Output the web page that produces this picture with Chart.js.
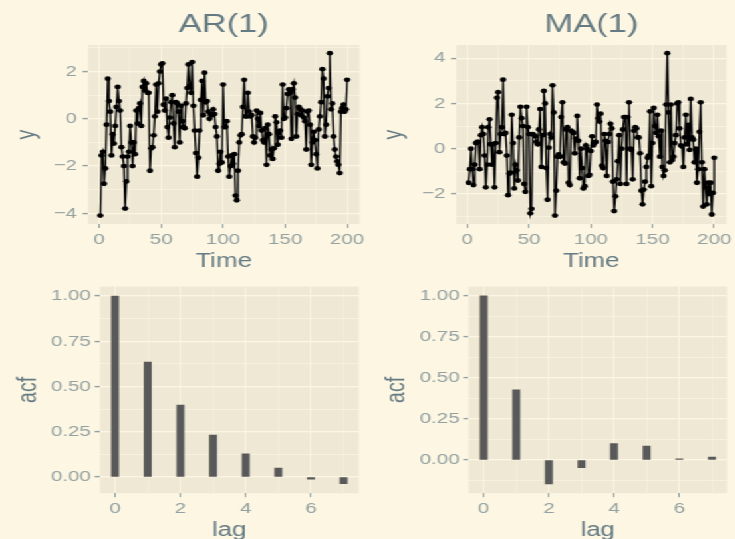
<!DOCTYPE html>
<html><head><meta charset="utf-8">
<script src="https://cdn.jsdelivr.net/npm/chart.js@4.4.1/dist/chart.umd.min.js"></script>
<style>
html,body{margin:0;padding:0;background:#FDF6E3;overflow:hidden;width:735px;height:539px}
#wrap{position:absolute;left:0;top:0;width:553px;height:539px;transform:scaleX(1.33);transform-origin:0 0}
canvas{position:absolute}
</style></head><body><div id="wrap"></div>
<script>
// ---------- data ----------
const timeIndex = [1,2,3,4,5,6,7,8,9,10,11,12,13,14,15,16,17,18,19,20,21,22,23,24,25,26,27,28,29,30,31,32,33,34,35,36,37,38,39,40,41,42,43,44,45,46,47,48,49,50,51,52,53,54,55,56,57,58,59,60,61,62,63,64,65,66,67,68,69,70,71,72,73,74,75,76,77,78,79,80,81,82,83,84,85,86,87,88,89,90,91,92,93,94,95,96,97,98,99,100,101,102,103,104,105,106,107,108,109,110,111,112,113,114,115,116,117,118,119,120,121,122,123,124,125,126,127,128,129,130,131,132,133,134,135,136,137,138,139,140,141,142,143,144,145,146,147,148,149,150,151,152,153,154,155,156,157,158,159,160,161,162,163,164,165,166,167,168,169,170,171,172,173,174,175,176,177,178,179,180,181,182,183,184,185,186,187,188,189,190,191,192,193,194,195,196,197,198,199,200];

const arValues = [
-4.1,-1.55,-1.4,-2.75,-2.1,-0.25,1.7,0.75,0.3,-1.55,
-0.65,-1.05,-0.3,0.5,1.35,0.75,0.35,-1.2,-1.6,-2.0,
-3.8,-2.65,-1.6,-1.4,-0.3,-1.0,-2.0,-1.0,-1.5,0.35,
-0.2,0.45,0.65,-0.3,1.35,1.6,1.2,1.5,1.1,1.1,
-2.2,-1.25,-1.2,-0.7,0.1,1.45,0.3,1.5,2.0,2.3,
2.35,0.6,0.35,0.85,-0.35,-0.8,0.05,0.7,1.0,-0.2,
-1.2,0.7,0.65,0.3,-1.0,0.55,-0.1,-0.35,-0.4,0.65,
1.3,2.3,1.4,1.1,2.4,0.55,-0.5,-1.45,-2.45,-1.65,
-0.5,0.8,1.6,0.15,1.95,0.7,0.75,0.3,0.0,0.2,
0.15,0.4,0.2,-0.35,-0.75,-2.2,-1.9,-1.4,-1.85,1.45,
-0.35,-0.35,-0.1,-1.6,-2.45,-2.0,-1.55,-1.9,-1.5,-3.25,
-3.45,-2.2,-1.0,-0.7,-0.65,0.5,1.65,0.1,0.1,1.1,
0.3,0.1,0.15,-0.75,-1.0,-0.8,0.35,0.0,-0.3,0.25,
-0.5,-0.9,-1.0,-0.4,-1.95,-0.25,-0.65,-1.55,-1.3,-1.7,
-1.25,0.1,-0.15,-1.1,-0.6,-0.5,-0.8,1.45,0.0,0.05,
0.45,1.05,1.25,1.1,-0.85,1.25,1.5,0.9,-0.75,0.2,
0.5,0.4,0.15,0.35,0.05,-0.1,-1.3,0.3,0.35,-0.25,
-1.95,-1.0,-0.55,-0.9,-1.5,-2.1,-0.45,0.1,0.7,2.1,
1.7,-0.75,-0.25,0.95,1.3,2.78,0.4,0.65,-0.75,-1.3,
-1.6,-1.8,-1.95,-2.3,0.3,0.45,0.6,0.3,0.4,1.65];

const maValues = [
-1.5,-0.9,0.0,-0.9,-1.6,-0.7,0.25,0.3,0.3,-0.9,
0.6,0.95,0.65,-0.3,-1.7,-0.7,0.95,1.3,0.2,-0.7,
0.2,-1.7,0.25,2.25,2.5,-0.15,0.65,0.95,3.05,0.65,
0.7,-0.3,-2.05,-1.1,-1.05,1.5,0.25,-1.75,-0.7,-0.95,
-1.4,0.5,1.85,1.35,1.0,-1.55,-1.9,1.85,0.95,0.65,
-2.85,-2.65,0.65,0.6,0.55,0.3,0.2,0.85,1.75,-0.8,
0.6,2.55,2.0,-0.85,-2.25,0.05,0.65,0.5,2.8,1.6,
-2.95,-1.85,-0.35,-0.25,-0.35,1.4,2.05,-0.6,-0.65,0.85,
0.95,-1.5,-1.6,0.8,0.75,0.7,-0.2,0.45,1.45,0.35,
-1.3,0.0,-0.85,-1.75,-1.65,0.15,0.0,-1.2,-1.15,-0.1,
0.55,0.15,0.25,0.3,1.95,1.35,1.2,1.55,-0.75,-0.85,
0.65,0.35,-1.2,0.3,0.65,1.1,0.9,-1.45,-2.75,-2.1,
-1.35,-0.55,0.6,-1.55,0.0,0.85,1.4,1.4,-1.55,1.4,
2.05,0.0,-0.05,-1.35,0.8,0.95,0.9,0.5,0.5,-0.2,
-1.85,-2.45,-1.8,-1.45,-0.8,-0.4,-0.3,1.65,-1.65,0.25,
1.8,1.0,0.7,1.5,0.55,-0.35,0.8,-0.8,-1.2,-0.95,
1.95,4.22,1.6,-0.6,1.95,-0.5,-0.35,0.25,0.6,2.0,
2.05,0.9,0.15,0.1,-0.8,0.5,1.5,0.2,1.05,-0.05,
2.2,0.5,0.4,-0.6,0.0,-1.5,-0.9,0.75,2.05,-0.6,
-2.55,-0.9,-1.7,-2.45,-1.5,-2.0,-1.5,-2.9,-1.95,-0.4];

const lags = [0,1,2,3,4,5,6,7];
const arAcf = [1.0,0.635,0.398,0.232,0.129,0.05,-0.011,-0.037];
const maAcf = [1.0,0.427,-0.146,-0.047,0.099,0.085,0.007,0.018];

const timeTicks = [0,50,100,150,200];
const timeMinor = [25,75,125,175];
const arYTicks = [-4,-2,0,2];
const arYMinor = [-3,-1,1,3];
const maYTicks = [-2,0,2,4];
const maYMinor = [-3,-1,1,3];
const acfYTicks = [0,0.25,0.5,0.75,1];
const acfArMinor = [0.125,0.375,0.625,0.875];
const acfMaMinor = [-0.125,0.125,0.375,0.625,0.875];
const lagTicks = [0,2,4,6];
const lagMinor = [1,3,5,7];

// ---------- styling ----------
const FONT = "'Liberation Sans', Arial, Helvetica, sans-serif";
const C = { panel:'#EEE8D5', grid:'#FDF6E3', tick:'#93A1A1', title:'#657B83', ink:'#000000', bar:'#595959' };
const wrap = document.getElementById('wrap');

const panelBg = { id:'panelBg', beforeDraw(chart){
  const {ctx, chartArea:a} = chart;
  ctx.save(); ctx.fillStyle = C.panel;
  ctx.fillRect(a.left, a.top, a.right-a.left, a.bottom-a.top);
  ctx.restore();
}};

const isIn = (arr, v) => arr.some(m => Math.abs(m - v) < 1e-9);
const fmtInt = v => v < 0 ? '\u2212' + Math.abs(v) : String(v);
const fmt2 = v => v < 0 ? '\u2212' + Math.abs(v).toFixed(2) : v.toFixed(2);

function makeChart(o){
  const cv = document.createElement('canvas');
  cv.width = o.cw; cv.height = o.ch;
  cv.style.left = o.cx + 'px'; cv.style.top = o.cy + 'px';
  cv.style.width = o.cw + 'px'; cv.style.height = o.ch + 'px';
  wrap.appendChild(cv);
  const xAll = o.xMajor.concat(o.xMinor).sort((a,b)=>a-b);
  const yAll = o.yMajor.concat(o.yMinor).sort((a,b)=>a-b);
  const yAxisW = o.L - o.cx;
  const xAxisH = o.cy + o.ch - o.B;
  const titleH = 31.2;
  new Chart(cv, {
    type: o.type,
    data: { datasets: [o.dataset] },
    options: {
      responsive:false, animation:false, devicePixelRatio:1,
      events: [],
      layout:{ padding:{ left:0, right:o.cx + o.cw - o.R, top: o.title ? 0 : o.T - o.cy, bottom:0 } },
      plugins:{
        legend:{display:false}, tooltip:{enabled:false},
        title: o.title ? { display:true, text:o.title, fullSize:false, color:C.title,
          font:{family:FONT, size:26, weight:'normal', lineHeight:1.2},
          padding:{ top:9.4, bottom:o.T - o.cy - 9.4 - titleH } } : { display:false }
      },
      scales:{
        x:{
          type:'linear', min:o.xMin, max:o.xMax, offset:false,
          afterBuildTicks: s => { s.ticks = xAll.map(v => ({value:v})); },
          afterFit: s => { s.height = xAxisH; s.paddingLeft = 0; s.paddingRight = 0; },
          ticks:{ autoSkip:false, maxRotation:0, minRotation:0, padding:2, color:C.tick,
            font:{family:FONT, size:15.5}, callback: v => isIn(o.xMajor, v) ? o.xFmt(v) : '' },
          grid:{ offset:false, color:C.grid, drawTicks:true, tickLength:4, tickWidth:1.1,
            lineWidth: c => (c.tick && isIn(o.xMajor, c.tick.value)) ? 0.9 : 0.45,
            tickColor: c => (c.tick && isIn(o.xMajor, c.tick.value)) ? C.tick : 'rgba(0,0,0,0)' },
          border:{display:false},
          title:{ display:true, text:o.xTitle, color:C.title, font:{family:FONT, size:19.5, lineHeight:1.2},
            padding:{top:0, bottom:o.xTitlePadB} }
        },
        y:{
          type:'linear', min:o.yMin, max:o.yMax,
          afterBuildTicks: s => { s.ticks = yAll.map(v => ({value:v})); },
          afterFit: s => { s.width = yAxisW; s.paddingTop = 0; s.paddingBottom = 0; },
          ticks:{ autoSkip:false, padding:o.yTickPad, color:C.tick,
            font:{family:FONT, size:15.5}, callback: v => isIn(o.yMajor, v) ? o.yFmt(v) : '' },
          grid:{ color:C.grid, drawTicks:true, tickLength:4, tickWidth:1.4,
            lineWidth: c => (c.tick && isIn(o.yMajor, c.tick.value)) ? 1.2 : 0.6,
            tickColor: c => (c.tick && isIn(o.yMajor, c.tick.value)) ? C.tick : 'rgba(0,0,0,0)' },
          border:{display:false},
          title:{ display:true, text:o.yTitle, color:C.title, font:{family:FONT, size:19.5, lineHeight:1.2},
            padding:{top:o.yTitlePadT, bottom:0} }
        }
      }
    },
    plugins:[panelBg]
  });
}

function lineSet(xs, ys){
  return { data: xs.map((t,i) => ({x:t, y:ys[i]})), borderColor:C.ink, borderWidth:1.35,
    pointRadius:2.4, pointBackgroundColor:C.ink, pointBorderWidth:0, tension:0, fill:false };
}
function barSet(xs, ys){
  return { data: xs.map((l,i) => ({x:l, y:ys[i]})), backgroundColor:C.bar, borderWidth:0, barThickness:5.3 };
}

// AR(1) series
makeChart({ type:'line', dataset:lineSet(timeIndex, arValues), title:'AR(1)',
  cx:0, cy:0, cw:276, ch:275, L:66.17, R:270.3, T:45, B:224,
  xMin:-8.95, xMax:209.95, yMin:-4.455, yMax:3.125,
  xMajor:timeTicks, xMinor:timeMinor, yMajor:arYTicks, yMinor:arYMinor,
  xFmt:fmtInt, yFmt:fmtInt, xTitle:'Time', yTitle:'y', xTitlePadB:2, yTitlePadT:9, yTickPad:4.3 });

// MA(1) series
makeChart({ type:'line', dataset:lineSet(timeIndex, maValues), title:'MA(1)',
  cx:276, cy:0, cw:277, ch:275, L:343.1, R:546.2, T:45, B:224,
  xMin:-8.95, xMax:209.95, yMin:-3.32, yMax:4.58,
  xMajor:timeTicks, xMinor:timeMinor, yMajor:maYTicks, yMinor:maYMinor,
  xFmt:fmtInt, yFmt:fmtInt, xTitle:'Time', yTitle:'y', xTitlePadB:2, yTitlePadT:9, yTickPad:4.3 });

// ACF of AR(1)
makeChart({ type:'bar', dataset:barSet(lags, arAcf), title:null,
  cx:0, cy:270, cw:276, ch:275, L:75.2, R:269.7, T:286.6, B:493.2,
  xMin:-0.46, xMax:7.46, yMin:-0.089, yMax:1.052,
  xMajor:lagTicks, xMinor:lagMinor, yMajor:acfYTicks, yMinor:acfArMinor,
  xFmt:fmtInt, yFmt:fmt2, xTitle:'lag', yTitle:'acf', xTitlePadB:2.3, yTitlePadT:10, yTickPad:2.8 });

// ACF of MA(1)
makeChart({ type:'bar', dataset:barSet(lags, maAcf), title:null,
  cx:276, cy:270, cw:277, ch:275, L:352.4, R:546.5, T:286.6, B:493.2,
  xMin:-0.46, xMax:7.46, yMin:-0.203, yMax:1.057,
  xMajor:lagTicks, xMinor:lagMinor, yMajor:acfYTicks, yMinor:acfMaMinor,
  xFmt:fmtInt, yFmt:fmt2, xTitle:'lag', yTitle:'acf', xTitlePadB:2.3, yTitlePadT:10.7, yTickPad:2.8 });
</script>
</body></html>
